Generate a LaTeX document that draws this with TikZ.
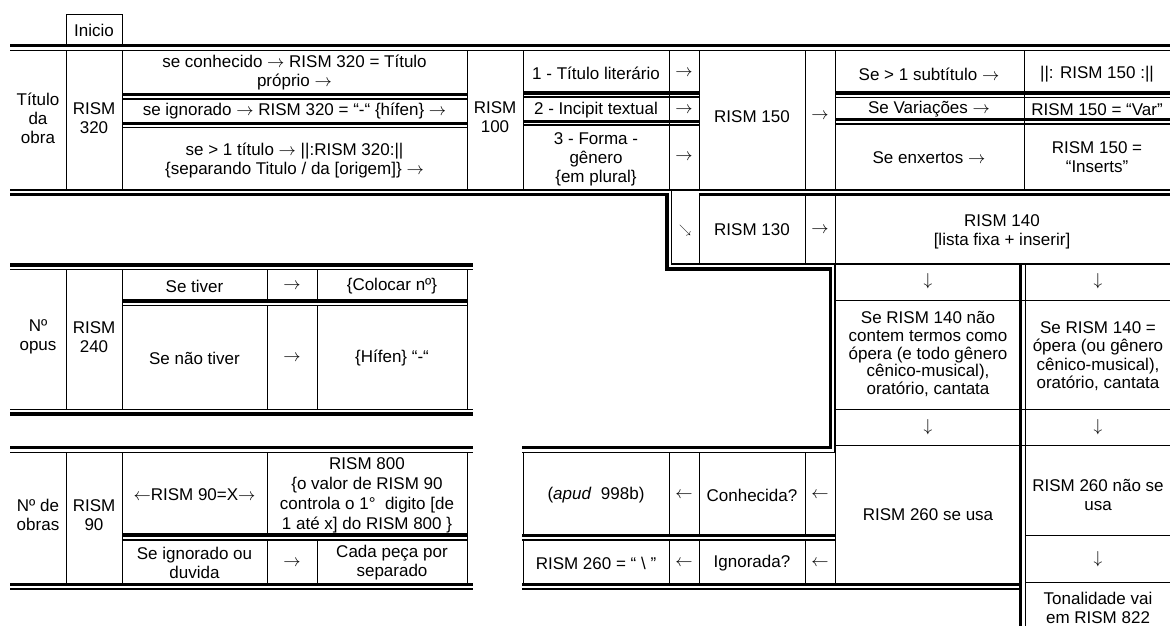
\documentclass[tikz,border=0pt]{standalone}
\usepackage{fontspec}
\setmainfont{Liberation Sans}
\newcommand{\myR}{\ensuremath{\rightarrow}}
\newcommand{\myL}{\ensuremath{\leftarrow}}
\newcommand{\myD}{\ensuremath{\downarrow}}
\newcommand{\myDR}{\ensuremath{\searrow}}
\begin{document}
\begin{tikzpicture}[x=1pt,y=-1pt,
  cell/.style={line width=0.9pt},
  thk/.style={line width=3.3pt, line join=miter},
  thn/.style={line width=1.5pt, line join=miter},
  txt/.style={align=center, inner sep=0pt, font=\fontsize{17}{19}\selectfont},
]
\path[use as bounding box] (0,0) rectangle (1170,626);
\clip (0,0) rectangle (1170,626);

% ---------- top double line and Inicio box
\draw[thk] (10,45.5) -- (1170,45.5);
\draw[thn] (10,50.5) -- (1170,50.5);
\draw[cell] (66,44) |- (122,14) -- (122,44);

% ---------- block 1
\foreach \x in {66,122,467,523,669,699,805,835,1024} \draw[cell] (\x,50.5) -- (\x,190);
\draw[thk] (122,94.5) -- (467,94.5);  \draw[thn] (122,99) -- (467,99);
\draw[thk] (122,123.3) -- (467,123.3); \draw[thn] (122,127.5) -- (467,127.5);
\draw[thk] (523,93) -- (699,93);  \draw[thn] (523,97) -- (699,97);
\draw[thk] (523,121.2) -- (699,121.2); \draw[thn] (523,125.2) -- (699,125.2);
\draw[thk] (835,93) -- (1170,93);  \draw[thn] (835,97.5) -- (1170,97.5);
\draw[thk] (835,119.5) -- (1170,119.5); \draw[thn] (835,124) -- (1170,124);

% ---------- bottom of block 1 and step
\draw[thn] (10,190) -- (1170,190);
\draw[thk] (10,194.5) -- (667,194.5) -- (667,269) -- (830.5,269) -- (830.5,447.5) -- (522,447.5);
\draw[thk] (699,194.5) -- (1170,194.5);
\draw[thn] (671.5,190) -- (671.5,264) -- (1170,264);
\draw[thn] (835,264) -- (835,452.3) -- (522,452.3);
\foreach \x in {699,805,835} \draw[cell] (\x,194.5) -- (\x,264);

% ---------- block 3 (N opus)
\draw[thk] (10,265) -- (473,265);   \draw[thn] (10,269.5) -- (473,269.5);
\draw[thn] (10,409.5) -- (473,409.5); \draw[thk] (10,414) -- (473,414);
\draw[thk] (122,301) -- (467,301);  \draw[thn] (122,305.5) -- (467,305.5);
\foreach \x in {66,122,467} \draw[cell] (\x,269.5) -- (\x,409.5);
\foreach \x in {267,317} {\draw[cell] (\x,269.5) -- (\x,301); \draw[cell] (\x,305.5) -- (\x,409.5);}

% ---------- block 4 (N de obras)
\draw[thk] (10,447.5) -- (473,447.5); \draw[thn] (10,452.3) -- (473,452.3);
\draw[thk] (10,584.5) -- (473,584.5); \draw[thn] (10,589) -- (473,589);
\draw[thk] (122,535) -- (467,535);  \draw[thn] (122,540) -- (467,540);
\foreach \x in {66,122,467} \draw[cell] (\x,452.3) -- (\x,584.5);
\draw[cell] (267,452.3) -- (267,535); \draw[cell] (267,540) -- (267,584.5);
\draw[cell] (317,540) -- (317,584.5);

% ---------- middle bottom block
\draw[thk] (522,535.5) -- (835,535.5); \draw[thn] (522,540) -- (835,540);
\draw[thk] (522,584.5) -- (1020.5,584.5); \draw[thn] (522,589) -- (1020.5,589);
\foreach \x in {523,669,699,805} {\draw[cell] (\x,452.3) -- (\x,535.5); \draw[cell] (\x,540) -- (\x,584.5);}
\draw[cell] (835,452.3) -- (835,584.5);

% ---------- right region
\draw[cell] (835,300) -- (1170,300);
\draw[cell] (835,409) -- (1170,409);
\draw[cell] (835,445) -- (1170,445);
\draw[cell] (1025,535) -- (1170,535);
\draw[cell] (1025,582) -- (1170,582);
\draw[thk] (1020.5,264) -- (1020.5,626);
\draw[thn] (1025.3,264) -- (1025.3,626);

% ---------- texts
\node[txt] (inicio) at (94,30) {Inicio};
\node[txt] (titulo) at (38,118) {Título\\da\\obra};
\node[txt] (r320) at (94,118) {RISM\\320};
\node[txt] (conh) at (294.5,73) {se conhecido \myR{} RISM 320 = Título\\próprio \myR};
\node[txt] (ign) at (294.5,111.5) {se ignorado \myR{} RISM 320 = “-“ \{hífen\} \myR};
\node[txt] (mais) at (294.5,161) {se > 1 título \myR{} ||:RISM 320:||\\\{separando Titulo / da [origem]\} \myR};

\node[txt] (r100) at (495,117) {RISM\\100};
\node[txt] (lit) at (596,73) {1 - Título literário};
\node[txt] (a1) at (684,73) {\myR};
\node[txt] (inc) at (596,110) {2 - Incipit textual};
\node[txt] (a2) at (684,110) {\myR};
\node[txt] (forma) at (596,159) {3 - Forma -\\gênero\\\{em plural\}};
\node[txt] (a3) at (684,157) {\myR};
\node[txt] (r150) at (752,117) {RISM 150};
\node[txt] (a4) at (820,116) {\myR};
\node[txt] (sub) at (929,74) {Se > 1 subtítulo \myR};
\node[txt] (rep) at (1097,74) {||: RISM 150 :||};
\node[txt] (var) at (929,109.5) {Se Variações \myR};
\node[txt] (varv) at (1097,109.5) {RISM 150 = “Var”};
\node[txt] (enx) at (929,158) {Se enxertos \myR};
\node[txt] (ins) at (1097,157) {RISM 150 =\\“Inserts”};

\node[txt, font=\fontsize{12}{14}\selectfont] (diag) at (685,230) {\myDR};
\node[txt] (r130) at (752,230) {RISM 130};
\node[txt] (a5) at (820,230) {\myR};
\node[txt] (r140) at (1002,232) {RISM 140\\{}[lista fixa + inserir]};

\node[txt] (nop) at (38,337) {Nº\\opus};
\node[txt] (r240) at (94,337) {RISM\\240};
\node[txt] (tiv) at (194.5,286) {Se tiver};
\node[txt] (a6) at (292,286) {\myR};
\node[txt] (col) at (392,286) {\{Colocar nº\}};
\node[txt] (ntiv) at (194.5,358) {Se não tiver};
\node[txt] (a7) at (292,358) {\myR};
\node[txt] (hif) at (392,358) {\{Hífen\} “-“};

\node[txt] (nob) at (38,515) {Nº de\\obras};
\node[txt] (r90) at (94,515) {RISM\\90};
\node[txt] (xx) at (194.5,495) {\myL RISM 90=X\myR};
\node[txt, font=\fontsize{17}{20}\selectfont] (r800) at (367,495) {RISM 800\\\{o valor de RISM 90\\controla o 1°\ \ digito [de\\1 até x] do RISM 800 \}};
\node[txt] (sig) at (194.5,563) {Se ignorado ou\\duvida};
\node[txt] (a8) at (292,563) {\myR};
\node[txt] (cada) at (392,563) {Cada peça por\\separado};

\node[txt] (apud) at (596,495) {(\textit{apud}\ \ 998b)};
\node[txt] (a9) at (684,495) {\myL};
\node[txt] (conhd) at (752,495) {Conhecida?};
\node[txt] (a10) at (820,495) {\myL};
\node[txt] (barra) at (596,563) {RISM 260 = “ \textbackslash{} ”};
\node[txt] (a11) at (684,563) {\myL};
\node[txt] (ignd) at (752,563) {Ignorada?};
\node[txt] (a12) at (820,563) {\myL};

\node[txt] (d1) at (928,281) {\myD};
\node[txt] (d2) at (1098,281) {\myD};
\node[txt, font=\fontsize{17}{17.8}\selectfont] (nao) at (928,354) {Se RISM 140 não\\contem termos como\\ópera (e todo gênero\\cênico-musical),\\oratório, cantata};
\node[txt, font=\fontsize{17}{18.3}\selectfont] (sim) at (1098,356) {Se RISM 140 =\\ópera (ou gênero\\cênico-musical),\\oratório, cantata};
\node[txt] (d3) at (928,427) {\myD};
\node[txt] (d4) at (1098,427) {\myD};
\node[txt] (usa) at (928,515) {RISM 260 se usa};
\node[txt] (nusa) at (1098,495) {RISM 260 não se\\usa};
\node[txt] (d5) at (1098,559) {\myD};
\node[txt] (ton) at (1098,608) {Tonalidade vai\\em RISM 822};
\end{tikzpicture}
\end{document}
